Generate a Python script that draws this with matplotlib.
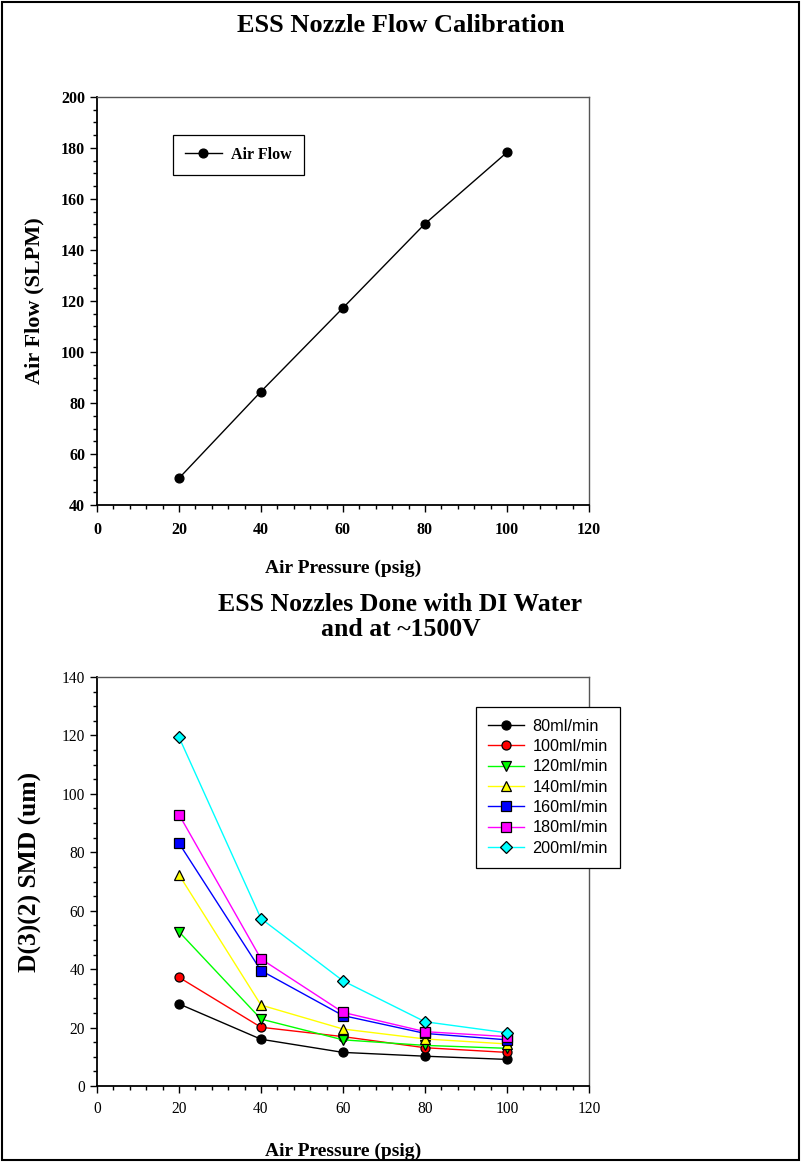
import matplotlib
matplotlib.use("Agg")
import matplotlib.pyplot as plt
from matplotlib.ticker import MultipleLocator
from matplotlib.patches import Rectangle

# ---- data ----
pressure = [20, 40, 60, 80, 100]
air_flow = [50.5, 84.5, 117.3, 150.3, 178.3]

series_labels = ["80ml/min", "100ml/min", "120ml/min", "140ml/min",
                 "160ml/min", "180ml/min", "200ml/min"]
smd_80 = [28.1, 16.0, 11.5, 10.2, 9.1]
smd_100 = [37.2, 20.1, 16.9, 13.1, 11.5]
smd_120 = [52.8, 22.9, 15.8, 13.9, 12.9]
smd_140 = [72.3, 27.7, 19.5, 16.1, 14.4]
smd_160 = [83.1, 39.5, 24.1, 18.0, 15.8]
smd_180 = [92.9, 43.5, 25.2, 18.6, 16.9]
smd_200 = [119.4, 57.3, 36.0, 22.0, 18.2]
series_values = [smd_80, smd_100, smd_120, smd_140, smd_160, smd_180, smd_200]
series_colors = ["black", "red", "lime", "yellow", "blue", "magenta", "cyan"]
series_markers = ["o", "o", "v", "^", "s", "s", "D"]

serif = "Liberation Serif"
sans = "Liberation Sans"

fig = plt.figure(figsize=(8.01, 11.62), dpi=100)
fig.patches.append(Rectangle((0.002, 0.002), 0.996, 0.996, transform=fig.transFigure,
                             fill=False, edgecolor="black", linewidth=1.5))

def style_axes(ax, bold_ticks, xpad):
    for s in ["left", "bottom"]:
        ax.spines[s].set_color("black")
        ax.spines[s].set_linewidth(1.3)
    for s in ["top", "right"]:
        ax.spines[s].set_color("#555555")
        ax.spines[s].set_linewidth(1.0)
    ax.tick_params(which="major", direction="out", length=5, width=1.0,
                   top=False, right=False)
    ax.tick_params(which="minor", direction="out", length=3, width=1.0,
                   top=False, right=False)
    ax.tick_params(axis="x", which="major", pad=xpad)
    for lab in ax.get_xticklabels() + ax.get_yticklabels():
        lab.set_fontfamily(serif)
        lab.set_fontweight("bold" if bold_ticks else "normal")
        lab.set_fontsize(11.5 if bold_ticks else 11.2)

# ---- top chart ----
ax1 = fig.add_axes([97/801, 1-505/1162, 492/801, 408/1162])
ax1.plot(pressure, air_flow, color="black", linewidth=1.0, marker="o",
         markersize=6.3, markerfacecolor="black", markeredgecolor="black",
         label="Air Flow")
ax1.set_xlim(0, 120)
ax1.set_ylim(40, 200)
ax1.xaxis.set_major_locator(MultipleLocator(20))
ax1.xaxis.set_minor_locator(MultipleLocator(4))
ax1.yaxis.set_major_locator(MultipleLocator(20))
ax1.yaxis.set_minor_locator(MultipleLocator(5))
style_axes(ax1, True, 7)
ax1.set_xlabel("Air Pressure (psig)", fontfamily=serif, fontweight="bold",
               fontsize=14, labelpad=15.5)
ax1.set_ylabel("Air Flow (SLPM)", fontfamily=serif, fontweight="bold",
               fontsize=16, labelpad=12)
leg1 = ax1.legend(loc="upper left", bbox_to_anchor=(0.1545, 0.907), frameon=True,
                  fancybox=False, edgecolor="black", framealpha=1,
                  prop={"family": serif, "weight": "bold", "size": 11.5},
                  handlelength=2.3, borderpad=0.75, handletextpad=0.6,
                  borderaxespad=0)
leg1.get_frame().set_linewidth(0.9)
fig.text(0.5, 1-25/1162, "ESS Nozzle Flow Calibration", ha="center", va="center",
         fontfamily=serif, fontweight="bold", fontsize=19)

# ---- bottom chart ----
ax2 = fig.add_axes([97/801, 1-1086/1162, 492/801, 409/1162])
for lab, vals, col, mk in zip(series_labels, series_values, series_colors, series_markers):
    ms = 6.5 if mk != "D" else 6
    ax2.plot(pressure, vals, color=col, linewidth=1.0, marker=mk, markersize=ms,
             markerfacecolor=col, markeredgecolor="black", markeredgewidth=0.9,
             label=lab)
ax2.set_xlim(0, 120)
ax2.set_ylim(0, 140)
ax2.xaxis.set_major_locator(MultipleLocator(20))
ax2.xaxis.set_minor_locator(MultipleLocator(4))
ax2.yaxis.set_major_locator(MultipleLocator(20))
ax2.yaxis.set_minor_locator(MultipleLocator(5))
style_axes(ax2, False, 6)
ax2.set_xlabel("Air Pressure (psig)", fontfamily=serif, fontweight="bold",
               fontsize=14, labelpad=18.5)
ax2.set_ylabel("D(3)(2) SMD (um)", fontfamily=serif, fontweight="bold",
               fontsize=18.4, labelpad=14)
ax2.yaxis.label.set_y(0.523)
leg2 = ax2.legend(loc="upper left", bbox_to_anchor=(0.770, 0.9267), frameon=True,
                  fancybox=False, edgecolor="black", framealpha=1,
                  prop={"family": sans, "size": 11.7},
                  handlelength=2.27, borderpad=0.72, labelspacing=0.33,
                  handletextpad=0.5, borderaxespad=0)
leg2.get_frame().set_linewidth(0.9)
fig.text(0.5, 1-617/1162, "ESS Nozzles Done with DI Water\nand at ~1500V",
         ha="center", va="center", fontfamily=serif, fontweight="bold",
         fontsize=18.5, linespacing=1.1)

fig.savefig("out.png", dpi=100)
